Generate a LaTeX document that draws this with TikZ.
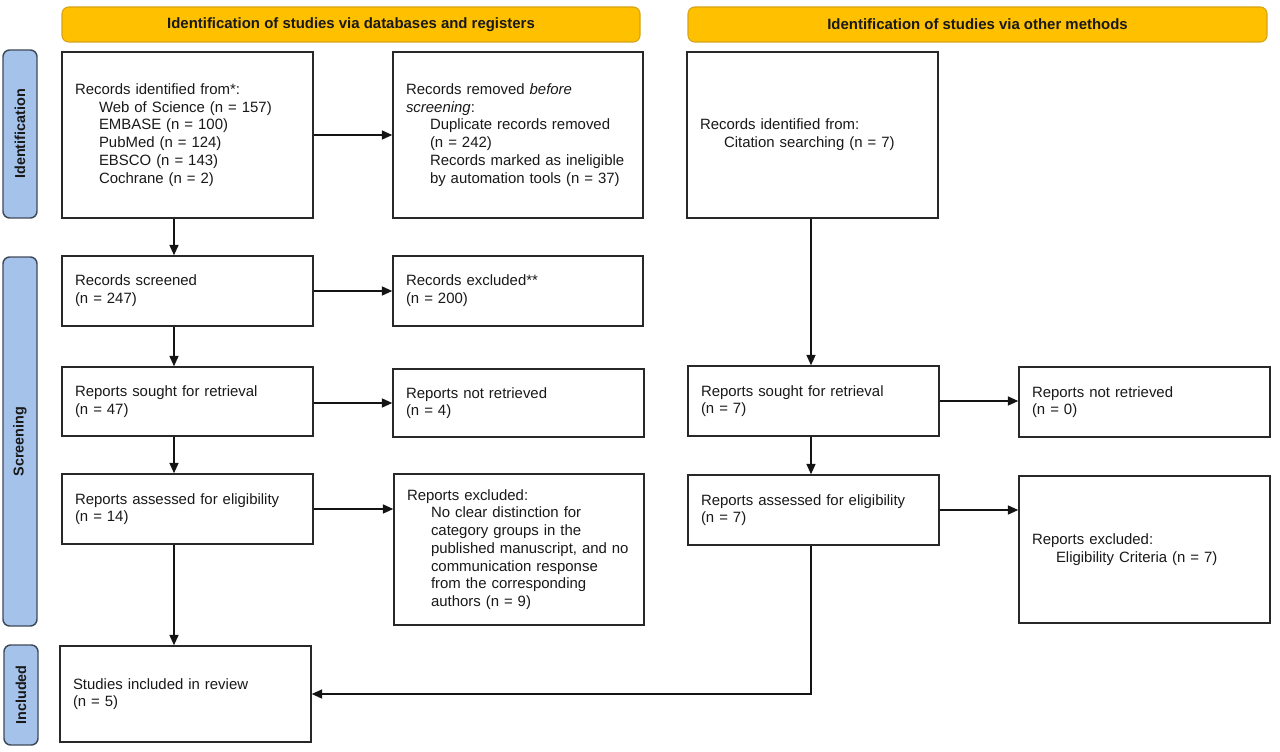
\documentclass[tikz,border=0pt]{standalone}
\usepackage{fontspec}
\setmainfont{Liberation Sans}
\usetikzlibrary{arrows.meta}
\definecolor{bannerfill}{RGB}{255,192,0}
\definecolor{bannerdraw}{RGB}{214,164,20}
\definecolor{sidefill}{RGB}{164,194,234}
\definecolor{sidedraw}{RGB}{63,74,90}
\definecolor{boxc}{RGB}{40,40,40}
\definecolor{linec}{RGB}{20,20,20}
\definecolor{txt}{RGB}{25,25,25}
\newcommand\pbox[6]{%
  \pgfmathsetmacro\tw{(#4-#2-26)*0.75}%
  \pgfmathsetmacro\mh{(#5-#3)*0.75}%
  \node[boxst, text width=\tw pt, minimum height=\mh pt] (#1) at ({(#2+#4)/2},{(#3+#5)/2}) {#6};}
\newcommand\ind{\hspace*{18pt}}
\begin{document}
\begin{tikzpicture}[x=0.75pt,y=-0.75pt,
  boxst/.style={draw=boxc, line width=1.1pt, fill=white, align=left, inner xsep=9.75pt, inner ysep=0pt,
    text=txt, font=\fontsize{11.2pt}{13.3pt}\selectfont},
  banner/.style={draw=bannerdraw, line width=0.8pt, fill=bannerfill, rounded corners=5pt, inner sep=0pt,
    text=txt, font=\bfseries\fontsize{11.2pt}{13pt}\selectfont},
  side/.style={draw=sidedraw, line width=1.1pt, fill=sidefill, rounded corners=5pt, inner sep=0pt,
    rotate=90, text=txt, font=\bfseries\fontsize{10.8pt}{13pt}\selectfont},
  arr/.style={line width=1.05pt, draw=linec, -{Triangle[length=7.8pt,width=6.8pt]}}]
\useasboundingbox (0,0) rectangle (1280,752);
% banners
\node[banner, minimum width=433.5pt, minimum height=26.25pt] (b1) at (351,24.5) {Identification of studies via databases and registers};
\node[banner, minimum width=434.25pt, minimum height=26.25pt] (b2) at (977.5,24.5) {Identification of studies via other methods};
% side labels
\node[side, minimum width=126pt, minimum height=25.5pt] (s1) at (20,134) {Identification};
\node[side, minimum width=276.75pt, minimum height=25.5pt] (s2) at (20,441.5) {Screening};
\node[side, minimum width=75pt, minimum height=25.5pt] (s3) at (21,695) {Included};
% boxes
\pbox{A}{62}{52}{313}{218}{Records identified from*:\\\ind Web of Science (n = 157)\\\ind EMBASE (n = 100)\\\ind PubMed (n = 124)\\\ind EBSCO (n = 143)\\\ind Cochrane (n = 2)}
\pbox{B}{393}{52}{643}{218}{Records removed \textit{before}\\\textit{screening}:\\\ind Duplicate records removed\\\ind (n = 242)\\\ind Records marked as ineligible\\\ind by automation tools (n = 37)}
\pbox{C}{687}{52}{938}{218}{Records identified from:\\\ind Citation searching (n = 7)}
\pbox{D}{62}{256}{313}{326}{Records screened\\(n = 247)}
\pbox{E}{393}{256}{643}{326}{Records excluded**\\(n = 200)}
\pbox{F}{62}{367}{313}{436}{Reports sought for retrieval\\(n = 47)}
\pbox{G}{393}{369}{644}{437}{Reports not retrieved\\(n = 4)}
\pbox{H}{62}{474}{313}{544}{Reports assessed for eligibility\\(n = 14)}
\pbox{I}{394}{474}{644}{625}{Reports excluded:\\\ind No clear distinction for\\\ind category groups in the\\\ind published manuscript, and no\\\ind communication response\\\ind from the corresponding\\\ind authors (n = 9)}
\pbox{J}{60}{646}{311}{742}{Studies included in review\\(n = 5)}
\pbox{K}{688}{366}{939}{436}{Reports sought for retrieval\\(n = 7)}
\pbox{L}{1019}{367}{1270}{437}{Reports not retrieved\\(n = 0)}
\pbox{M}{688}{475}{939}{545}{Reports assessed for eligibility\\(n = 7)}
\pbox{N}{1019}{476}{1270}{623}{Reports excluded:\\\ind Eligibility Criteria (n = 7)}
% connectors
\coordinate (colL) at (174,0);
\coordinate (colR) at (811,0);
\draw[arr] (A.east) -- (B.west);
\draw[arr] (A.south -| colL) -- (D.north -| colL);
\draw[arr] (D.east) -- (E.west);
\draw[arr] (D.south -| colL) -- (F.north -| colL);
\draw[arr] (G.west -| F.east) -- (G.west);
\draw[arr] (F.south -| colL) -- (H.north -| colL);
\draw[arr] (H.east) -- (H.east -| I.west);
\draw[arr] (H.south -| colL) -- (J.north -| colL);
\draw[arr] (C.south -| colR) -- (K.north -| colR);
\draw[arr] (K.east) -- (K.east -| L.west);
\draw[arr] (K.south -| colR) -- (M.north -| colR);
\draw[arr] (M.east) -- (M.east -| N.west);
\draw[arr] (M.south -| colR) |- (J.east);
\end{tikzpicture}
\end{document}
